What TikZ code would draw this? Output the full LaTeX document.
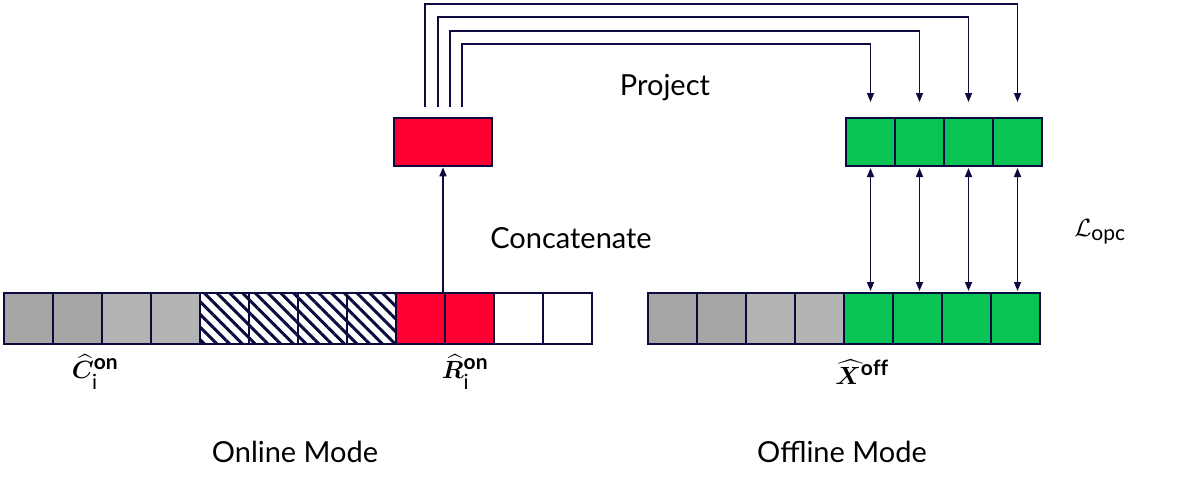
\documentclass[tikz,border=0pt]{standalone}
\usepackage{amsmath,bm}
\usepackage{fontspec}
\setmainfont{Lato}
\usetikzlibrary{patterns.meta,arrows.meta}
\definecolor{nv}{HTML}{0B0B3F}
\definecolor{rd}{HTML}{FF0033}
\definecolor{gr}{HTML}{08C454}
\definecolor{g1}{HTML}{A6A6A6}
\definecolor{g2}{HTML}{B4B4B4}
\begin{document}
\begin{tikzpicture}[x=1pt,y=-1pt,
 cell/.style={draw=nv,line width=2.5pt},
 arr/.style={draw=nv,line width=1.6pt,-{Triangle[length=9pt,width=7pt]}},
 darr/.style={draw=nv,line width=1.6pt,{Triangle[length=9pt,width=7pt]}-{Triangle[length=9pt,width=7pt]}},
 lbl/.style={font=\fontsize{29}{34}\selectfont},
 mth/.style={font=\fontsize{30}{36}\selectfont}]
\useasboundingbox (0,0) rectangle (1182,496);
% bottom-left bar
\foreach \i/\c in {0/g1,1/g1,2/g2,3/g2,8/rd,9/rd,10/white,11/white}
  \path[cell,fill=\c] ({4+49*\i},293) rectangle ({4+49*(\i+1)},344);
\foreach \i in {4,...,7}
  \path[cell,fill=white,pattern={Lines[angle=-45,distance=9pt,line width=3pt]},pattern color=nv] ({4+49*\i},293) rectangle ({4+49*(\i+1)},344);
\node[inner sep=0,minimum width=588,minimum height=51,draw=nv,line width=2.5pt] (online) at (298,318.5) {};
% bottom-right bar
\foreach \i/\c in {0/g1,1/g1,2/g2,3/g2,4/gr,5/gr,6/gr,7/gr}
  \path[cell,fill=\c] ({648+49*\i},293) rectangle ({648+49*(\i+1)},344);
\node[inner sep=0,minimum width=392,minimum height=51] (offline) at (844,318.5) {};
% top red
\node[cell,fill=rd,inner sep=0,minimum width=98,minimum height=48] (red) at (443,142) {};
% top green
\foreach \i in {0,...,3}{
  \path[cell,fill=gr] ({846+49*\i},118) rectangle ({846+49*(\i+1)},166);
  \coordinate (gt\i) at ({870.5+49*\i},102);
  \coordinate (gb\i) at ({870.5+49*\i},168);
  \coordinate (bt\i) at ({870.5+49*\i},291);
}
% concatenate
\draw[arr] (443,293) -- (red.south);
\node[lbl] (cat) at (571,238) {Concatenate};
% project lines
\foreach \x/\y/\j in {462/44/0,450/31/1,438/17/2,425/4/3}
  \draw[arr] (\x,107) -- (\x,\y) -| (gt\j);
\node[lbl] (proj) at (665,88) {Project};
% double arrows
\foreach \j in {0,...,3} \draw[darr] (gb\j) -- (bt\j);
\node[mth] (lopc) at (1100,232) {$\mathcal{L}_{\mathrm{opc}}$};
% labels
\node[mth] (c) at (95,372) {$\widehat{\bm{C}}_{\mathrm{i}}^{\mathbf{on}}$};
\node[mth] (r) at (465,372) {$\widehat{\bm{R}}_{\mathrm{i}}^{\mathbf{on}}$};
\node[mth] (xo) at (862,372) {$\widehat{\bm{X}}^{\mathbf{off}}$};
\node[lbl] (om) at (295,452) {Online Mode};
\node[lbl] (fm) at (842,452) {Offline Mode};
\end{tikzpicture}
\end{document}
